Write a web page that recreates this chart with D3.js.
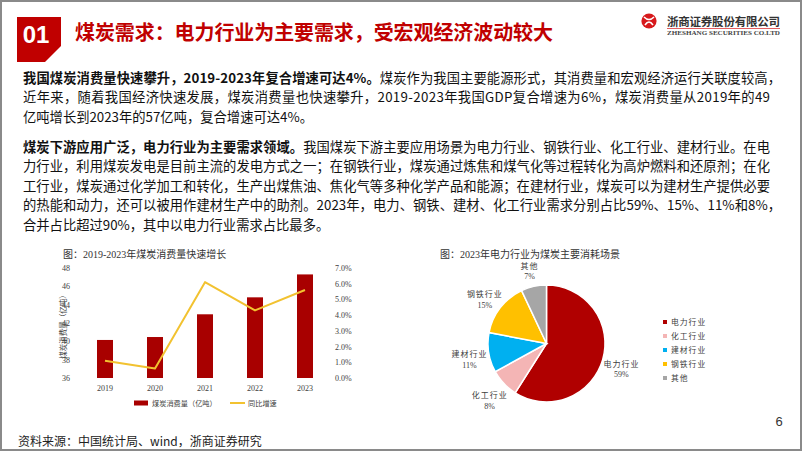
<!DOCTYPE html>
<html><head><meta charset="utf-8">
<script src="https://cdn.jsdelivr.net/npm/d3@7"></script>
<style>
html,body{margin:0;padding:0;background:#fff;}
svg{display:block;}
</style></head>
<body>
<svg id="c" width="802" height="451"></svg>
<script>
// ---------- data ----------
const years = ["2019","2020","2021","2022","2023"];
const consumption = [40.15, 40.47, 42.95, 44.8, 47.3];   // 煤炭消费量（亿吨）
const growth = [1.1, 0.6, 6.1, 4.3, 5.6];                 // 同比增速 %
const leftTicks = [36,38,40,42,44,46,48];
const rightTicks = [0,1,2,3,4,5,6,7];
const pieCats = ["电力行业","化工行业","建材行业","钢铁行业","其他"];
const pieValues = [59, 8, 11, 15, 7];
const pieColors = ["#B00000","#F4B5B5","#00B0F0","#FFC000","#A6A6A6"];

const headerTitle = "煤炭需求：电力行业为主要需求，受宏观经济波动较大";
const para1 = [
  [["b","我国煤炭消费量快速攀升，2019-2023年复合增速可达4%。"],["n","煤炭作为我国主要能源形式，其消费量和宏观经济运行关联度较高，"]],
  [["n","近年来，随着我国经济快速发展，煤炭消费量也快速攀升，2019-2023年我国GDP复合增速为6%，煤炭消费量从2019年的49"]],
  [["n","亿吨增长到2023年的57亿吨，复合增速可达4%。"]]
];
const para2 = [
  [["b","煤炭下游应用广泛，电力行业为主要需求领域。"],["n","我国煤炭下游主要应用场景为电力行业、钢铁行业、化工行业、建材行业。在电"]],
  [["n","力行业，利用煤炭发电是目前主流的发电方式之一；在钢铁行业，煤炭通过炼焦和煤气化等过程转化为高炉燃料和还原剂；在化"]],
  [["n","工行业，煤炭通过化学加工和转化，生产出煤焦油、焦化气等多种化学产品和能源；在建材行业，煤炭可以为建材生产提供必要"]],
  [["n","的热能和动力，还可以被用作建材生产中的助剂。2023年，电力、钢铁、建材、化工行业需求分别占比59%、15%、11%和8%，"]],
  [["n","合并占比超过90%，其中以电力行业需求占比最多。"]]
];
const lineWidths1 = [758, 747, null];
const lineWidths2 = [747, 747, 747, 758, null];

const svg = d3.select("#c");
const SANS = "'Noto Sans CJK SC','Noto Sans',sans-serif";
const SERIF = "'Liberation Serif','Times New Roman','Noto Sans CJK SC',serif";

// ---------- frame ----------
svg.append("rect").attr("x",1).attr("y",1).attr("width",800).attr("height",449)
  .attr("fill","#fff").attr("stroke","#8a8a8a").attr("stroke-width",2);

// ---------- header ----------
svg.append("polygon").attr("points","17,17 61,17 61,46 45,62 17,62").attr("fill","#C00000");
svg.append("text").attr("x",36).attr("y",43).attr("text-anchor","middle")
  .attr("font-family","'Liberation Sans',Arial,sans-serif").attr("font-weight","bold")
  .attr("font-size",24).attr("fill","#fff").text("01");
svg.append("text").attr("x",75).attr("y",40).attr("font-family",SANS).attr("font-weight","bold")
  .attr("font-size",20).attr("fill","#C00000").attr("textLength",478).attr("lengthAdjust","spacing")
  .text(headerTitle);

// logo
const logo = svg.append("g");
logo.append("circle").attr("cx",649).attr("cy",21).attr("r",7.6).attr("fill","#D7191C");
logo.append("path").attr("d","M644,17 Q649,22 654,17 M645,25 Q649,19 653,25")
  .attr("stroke","#fff").attr("stroke-width",1.6).attr("fill","none");
logo.append("text").attr("x",667).attr("y",25.5).attr("font-family",SANS).attr("font-weight","bold")
  .attr("font-size",11.5).attr("fill","#333").attr("textLength",113).attr("lengthAdjust","spacing")
  .text("浙商证券股份有限公司");
logo.append("line").attr("x1",667).attr("x2",780).attr("y1",28.5).attr("y2",28.5)
  .attr("stroke","#D7191C").attr("stroke-width",0.7);
logo.append("text").attr("x",667).attr("y",34.5).attr("font-family",SERIF).attr("font-weight","bold")
  .attr("font-size",5.5).attr("fill","#444").attr("textLength",113).attr("lengthAdjust","spacingAndGlyphs")
  .text("ZHESHANG SECURITIES CO.LTD");

// ---------- body text ----------
function para(lines, widths, y0){
  lines.forEach((ln,i)=>{
    const t = svg.append("text").attr("x",23).attr("y",y0 + i*19.6)
      .attr("font-family",SANS).attr("font-size",13.3).attr("fill","#111");
    if (widths[i]) t.attr("textLength",widths[i]).attr("lengthAdjust","spacing");
    ln.forEach(seg=>{
      t.append("tspan").attr("font-weight", seg[0]==="b" ? "bold" : "normal").text(seg[1]);
    });
  });
}
para(para1, lineWidths1, 82.5);
para(para2, lineWidths2, 151.5);

// ---------- bar + line chart ----------
svg.append("text").attr("x",63).attr("y",258).attr("font-family",SERIF).attr("font-size",10)
  .attr("fill","#333").text("图：2019-2023年煤炭消费量快速增长");

const x = d3.scaleBand().domain(years).range([80,330]).paddingInner(0.68).paddingOuter(0.34);
const yL = d3.scaleLinear().domain([36,48]).range([378,268]);
const yR = d3.scaleLinear().domain([0,7]).range([378,268]);

const gL = svg.append("g").attr("transform","translate(80,0)")
  .call(d3.axisLeft(yL).tickValues(leftTicks).tickSize(0).tickPadding(10));
const gR = svg.append("g").attr("transform","translate(330,0)")
  .call(d3.axisRight(yR).tickValues(rightTicks).tickSize(0).tickPadding(5)
    .tickFormat(d=>d.toFixed(1)+"%"));
const gX = svg.append("g").attr("transform","translate(0,378)")
  .call(d3.axisBottom(x).tickSize(0).tickPadding(7));
[gL,gR,gX].forEach(g=>{
  g.select(".domain").remove();
  g.selectAll("text").attr("font-family",SERIF).attr("font-size",8).attr("fill","#404040");
});

svg.append("g").selectAll("rect").data(consumption).join("rect")
  .attr("x",(d,i)=>x(years[i])).attr("width",x.bandwidth())
  .attr("y",d=>yL(d)).attr("height",d=>yL(36)-yL(d)).attr("fill","#A80000");

const line = d3.line().x((d,i)=>x(years[i])+x.bandwidth()/2).y(d=>yR(d));
svg.append("path").datum(growth).attr("d",line).attr("fill","none")
  .attr("stroke","#F2C230").attr("stroke-width",2).attr("stroke-linejoin","round");

svg.append("text").attr("transform","translate(66,325) rotate(-90)").attr("text-anchor","middle")
  .attr("font-family",SANS).attr("font-size",7.5).attr("fill","#404040").text("煤炭消费量（亿吨）");

// legend
svg.append("rect").attr("x",134).attr("y",400.5).attr("width",14).attr("height",5).attr("fill","#A80000");
svg.append("text").attr("x",152).attr("y",405.5).attr("font-family",SANS).attr("font-size",7.2)
  .attr("fill","#404040").text("煤炭消费量（亿吨）");
svg.append("line").attr("x1",230).attr("x2",245).attr("y1",403).attr("y2",403)
  .attr("stroke","#F2C230").attr("stroke-width",2);
svg.append("text").attr("x",248).attr("y",405.5).attr("font-family",SANS).attr("font-size",7.2)
  .attr("fill","#404040").text("同比增速");

// ---------- pie chart ----------
svg.append("text").attr("x",440).attr("y",258).attr("font-family",SERIF).attr("font-size",10)
  .attr("fill","#333").text("图：2023年电力行业为煤炭主要消耗场景");

const cx = 546.5, cy = 343.5, R = 58.5;
const pie = d3.pie().sort(null).value(d=>d)(pieValues);
const arc = d3.arc().innerRadius(0).outerRadius(R);
const labelArc = d3.arc().innerRadius(78).outerRadius(78);
const gp = svg.append("g").attr("transform",`translate(${cx},${cy})`);
gp.selectAll("path").data(pie).join("path").attr("d",arc)
  .attr("fill",(d,i)=>pieColors[i]).attr("stroke","#fff").attr("stroke-width",1.5);
pie.forEach((d,i)=>{
  const [lx,ly] = labelArc.centroid(d);
  const t = gp.append("text").attr("text-anchor","middle").attr("font-size",8).attr("fill","#404040");
  t.append("tspan").attr("x",lx).attr("y",ly+1.5).attr("font-family",SANS)
    .attr("letter-spacing",1).text(pieCats[i]);
  t.append("tspan").attr("x",lx).attr("y",ly+12).attr("font-family",SERIF).text(pieValues[i]+"%");
});

const lg = svg.append("g");
pieCats.forEach((c,i)=>{
  const yy = 322 + i*14;
  lg.append("rect").attr("x",663).attr("y",yy-2).attr("width",4).attr("height",4).attr("fill",pieColors[i]);
  lg.append("text").attr("x",671).attr("y",yy+3).attr("font-family",SANS).attr("font-size",7.8)
    .attr("letter-spacing",1).attr("fill","#404040").text(c);
});

// page number & source
svg.append("text").attr("x",779).attr("y",426).attr("text-anchor","middle")
  .attr("font-family","'Liberation Sans',Arial,sans-serif").attr("font-size",13).attr("fill","#333").text("6");
svg.append("text").attr("x",18).attr("y",446).attr("font-family",SANS).attr("font-size",12)
  .attr("fill","#222").text("资料来源：中国统计局、wind，浙商证券研究");
</script>
</body></html>
